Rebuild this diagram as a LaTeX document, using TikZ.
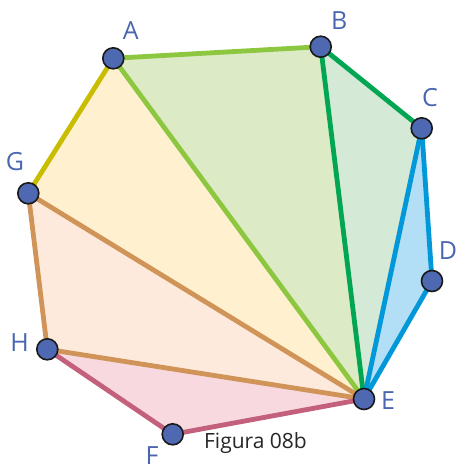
\documentclass[tikz,border=0pt]{standalone}
\usepackage{fontspec}
\setmainfont{Open Sans}
\definecolor{ptblue}{HTML}{4E69B2}
\definecolor{lblblue}{HTML}{4A66B0}
\definecolor{lime}{HTML}{8DC63F}
\definecolor{limefill}{HTML}{DCEAC6}
\definecolor{grn}{HTML}{00A651}
\definecolor{grnfill}{HTML}{D4E9D6}
\definecolor{blu}{HTML}{0098D8}
\definecolor{blufill}{HTML}{B2DFF5}
\definecolor{olive}{HTML}{C9BD00}
\definecolor{olivefill}{HTML}{FFF1D0}
\definecolor{tan}{HTML}{D09458}
\definecolor{tanfill}{HTML}{FDEADD}
\definecolor{pnk}{HTML}{C3617D}
\definecolor{pnkfill}{HTML}{F7D9DF}
\tikzset{
  vtx/.style={circle, fill=ptblue, draw=black!90, line width=1.6pt, minimum size=21pt, inner sep=0pt},
  lbl/.style={text=lblblue, font=\fontsize{25}{30}\selectfont, inner sep=0pt},
  edge/.style={line width=4.8pt},
}
\begin{document}
\begin{tikzpicture}[x=1pt,y=-1pt]
\useasboundingbox (0,0) rectangle (456,464);
\coordinate (a) at (113.3,58.3);
\coordinate (b) at (320.7,46.7);
\coordinate (c) at (421.7,128.3);
\coordinate (d) at (432,281);
\coordinate (e) at (364,399);
\coordinate (f) at (172.7,434.3);
\coordinate (g) at (28.3,193.3);
\coordinate (h) at (47.3,349.3);
% fills
\fill[limefill] (a) -- (b) -- (e) -- cycle;
\fill[grnfill] (b) -- (c) -- (e) -- cycle;
\fill[blufill] (c) -- (d) -- (e) -- cycle;
\fill[olivefill] (a) -- (g) -- (e) -- cycle;
\fill[tanfill] (g) -- (h) -- (e) -- cycle;
\fill[pnkfill] (h) -- (f) -- (e) -- cycle;
% edges
\draw[edge, olive] (a) -- (g);
\draw[edge, tan] (g) -- (h);
\draw[edge, tan] (g) -- (e);
\draw[edge, tan] (h) -- (e);
\draw[edge, pnk] (h) -- (f);
\draw[edge, pnk] (f) -- (e);
\draw[edge, lime] (a) -- (b);
\draw[edge, lime] (a) -- (e);
\draw[edge, grn] (b) -- (c);
\draw[edge, grn] (b) -- (e);
\draw[edge, blu] (c) -- (d);
\draw[edge, blu] (c) -- (e);
\draw[edge, blu] (d) -- (e);
% vertices
\node[vtx] (A) at (a) {};
\node[vtx] (B) at (b) {};
\node[vtx] (C) at (c) {};
\node[vtx] (D) at (d) {};
\node[vtx] (E) at (e) {};
\node[vtx] (F) at (f) {};
\node[vtx] (G) at (g) {};
\node[vtx] (H) at (h) {};
% labels
\node[lbl] (lA) at (130.7,31) {A};
\node[lbl] (lB) at (339.3,21) {B};
\node[lbl] (lC) at (430,98) {C};
\node[lbl] (lD) at (448,251) {D};
\node[lbl] (lE) at (388,401) {E};
\node[lbl] (lF) at (152,456) {F};
\node[lbl] (lG) at (15,162) {G};
\node[lbl] (lH) at (19.5,343) {H};
\node[text=black!85, font=\fontsize{21}{25}\selectfont, inner sep=0pt] (cap) at (255.5,443) {Figura 08b};
\end{tikzpicture}
\end{document}
